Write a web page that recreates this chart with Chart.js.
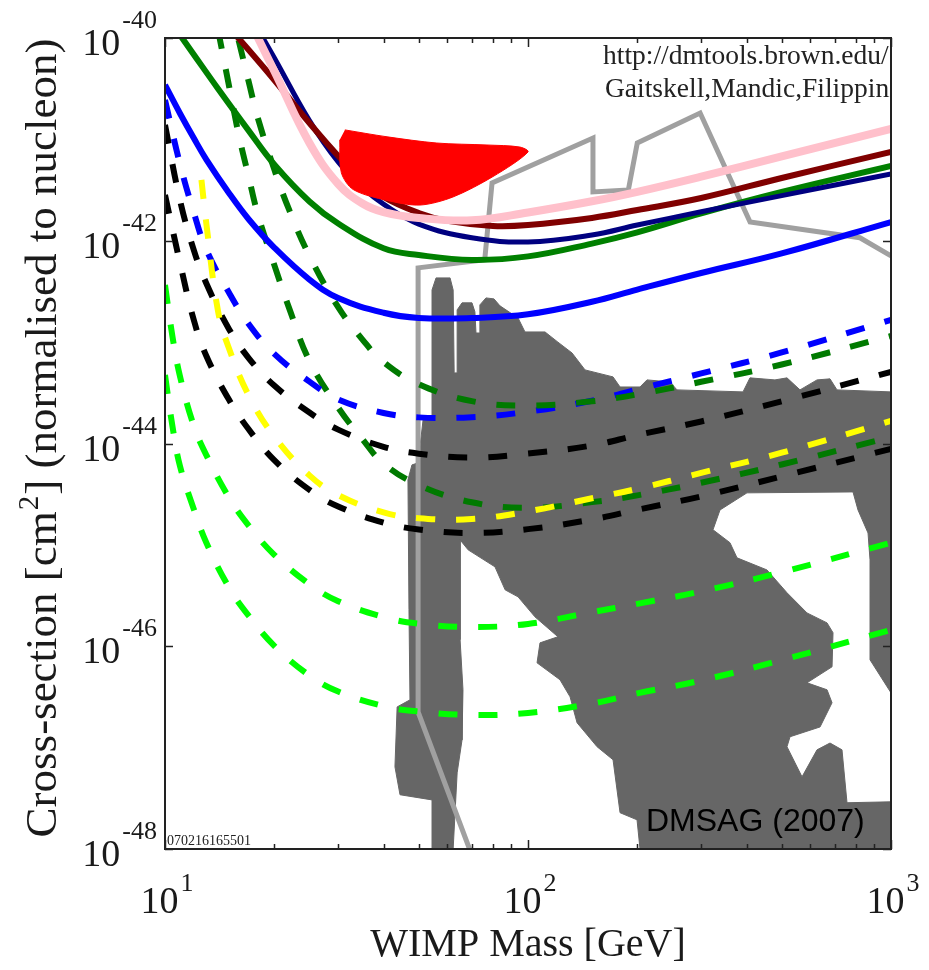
<!DOCTYPE html>
<html>
<head>
<meta charset="utf-8">
<script src="https://cdn.jsdelivr.net/npm/chart.js@4.4.1/dist/chart.umd.min.js"></script>
<style>
html,body{margin:0;padding:0;background:#ffffff;}
#wrap{width:929px;height:970px;position:relative;}
canvas{display:block;}
</style>
</head>
<body>
<div id="wrap"><canvas id="chart" width="929" height="970"></canvas></div>
<script>
// ---------------- DATA (WIMP mass in GeV, cross-section in cm^2) ----------------
const maroonMass  = [15, 16, 20, 25, 30, 35, 40, 50, 60, 80, 100, 150, 200, 300, 500, 1000];
const maroonSigma = [1.27e-40, 9.8e-41, 3.85e-41, 1.45e-41, 6.86e-42, 3.98e-42, 2.70e-42, 1.88e-42, 1.57e-42, 1.40e-42, 1.43e-42, 1.68e-42, 2.01e-42, 2.64e-42, 4.16e-42, 7.51e-42];

const pinkMass  = [17, 20, 25, 30, 35, 40, 50, 70, 100, 150, 200, 300, 500, 1000];
const pinkSigma = [1.54e-40, 4.73e-41, 9.21e-42, 3.63e-42, 2.33e-42, 1.92e-42, 1.68e-42, 1.59e-42, 1.90e-42, 2.45e-42, 3.04e-42, 4.29e-42, 6.78e-42, 1.27e-41];

const navyMass  = [17, 20, 25, 30, 35, 40, 50, 70, 100, 150, 200, 300, 500, 1000];
const navySigma = [1.76e-40, 6.39e-41, 1.53e-41, 5.98e-42, 3.36e-42, 2.30e-42, 1.46e-42, 1.07e-42, 9.73e-43, 1.14e-42, 1.43e-42, 1.93e-42, 2.79e-42, 4.56e-42];

const greenMass  = [10, 11, 12, 14, 17, 20, 25, 30, 40, 50, 70, 100, 150, 200, 300, 500, 1000];
const greenSigma = [1.72e-40, 1.07e-40, 6.88e-41, 3.16e-41, 1.22e-41, 5.65e-42, 2.44e-42, 1.48e-42, 8.43e-43, 7.24e-43, 6.47e-43, 7.01e-43, 9.38e-43, 1.21e-42, 1.86e-42, 3.03e-42, 5.47e-42];

const blueMass  = [10, 11, 12, 13, 15, 17, 20, 25, 30, 40, 50, 70, 100, 150, 200, 300, 500, 1000];
const blueSigma = [3.44e-41, 1.80e-41, 1.03e-41, 6.32e-42, 2.96e-42, 1.63e-42, 8.55e-43, 4.14e-43, 2.72e-43, 1.95e-43, 1.73e-43, 1.73e-43, 1.88e-43, 2.50e-43, 3.30e-43, 4.81e-43, 7.50e-43, 1.53e-42];

const greenDashUpperMass  = [15, 16, 17, 18, 20, 22, 25, 30, 35, 40, 50, 70, 100, 150, 200, 300, 500, 1000];
const greenDashUpperSigma = [2.29e-40, 9.05e-41, 3.72e-41, 1.65e-41, 5.06e-42, 2.00e-42, 7.08e-43, 2.21e-43, 1.06e-43, 6.35e-44, 3.85e-44, 2.62e-44, 2.37e-44, 2.61e-44, 3.05e-44, 4.06e-44, 6.01e-44, 1.15e-43];

const greenDashLowerMass  = [14, 15, 16, 17, 18, 20, 22, 25, 30, 35, 40, 50, 70, 100, 150, 200, 300, 500, 1000];
const greenDashLowerSigma = [1.20e-40, 3.41e-41, 1.07e-41, 4.29e-42, 1.85e-42, 5.78e-43, 2.14e-43, 6.53e-44, 2.26e-44, 1.10e-44, 6.35e-45, 3.89e-45, 2.63e-45, 2.32e-45, 2.64e-45, 3.08e-45, 4.10e-45, 6.21e-45, 1.16e-44];

const blueDashMass  = [10, 11, 12, 13, 15, 17, 20, 25, 30, 40, 50, 70, 100, 150, 200, 300, 500, 1000];
const blueDashSigma = [2.45e-41, 5.69e-42, 1.91e-42, 8.15e-43, 3.08e-43, 1.51e-43, 7.65e-44, 4.08e-44, 2.72e-44, 2.00e-44, 1.81e-44, 1.82e-44, 2.06e-44, 2.64e-44, 3.42e-44, 4.91e-44, 7.91e-44, 1.66e-43];

const blackDashUpperMass  = [10, 11, 12, 13, 15, 17, 20, 25, 30, 40, 50, 70, 100, 150, 200, 300, 500, 1000];
const blackDashUpperSigma = [1.39e-41, 2.50e-42, 8.13e-43, 3.79e-43, 1.35e-43, 6.97e-44, 3.73e-44, 2.02e-44, 1.37e-44, 9.28e-45, 7.94e-45, 7.26e-45, 7.98e-45, 9.55e-45, 1.21e-44, 1.65e-44, 2.61e-44, 5.08e-44];

const blackDashLowerMass  = [10, 11, 12, 13, 15, 17, 20, 25, 30, 40, 50, 70, 100, 150, 200, 300, 500, 1000];
const blackDashLowerSigma = [2.83e-42, 6.05e-43, 1.66e-43, 7.31e-44, 2.71e-44, 1.38e-44, 6.84e-45, 3.49e-45, 2.39e-45, 1.66e-45, 1.42e-45, 1.31e-45, 1.43e-45, 1.78e-45, 2.22e-45, 3.01e-45, 4.74e-45, 8.85e-45];

const yellowDashMass  = [12.6, 13, 14, 15, 17, 20, 25, 30, 40, 50, 70, 100, 150, 200, 300, 500, 1000];
const yellowDashSigma = [3.98e-42, 1.47e-42, 2.02e-43, 8.69e-44, 2.99e-44, 1.17e-44, 4.85e-45, 3.10e-45, 2.09e-45, 1.83e-45, 1.80e-45, 2.14e-45, 2.88e-45, 3.57e-45, 5.13e-45, 8.11e-45, 1.67e-44];

const limeDashUpperMass  = [10, 10.5, 11, 12, 13, 15, 17, 20, 25, 30, 40, 50, 70, 100, 150, 200, 300, 500, 1000];
const limeDashUpperSigma = [3.66e-43, 1.10e-43, 4.58e-44, 1.50e-44, 7.67e-45, 2.94e-45, 1.55e-45, 7.98e-46, 4.09e-46, 2.78e-46, 1.94e-46, 1.67e-46, 1.55e-46, 1.66e-46, 2.17e-46, 2.62e-46, 3.48e-46, 5.38e-46, 1.05e-45];

const limeDashLowerMass  = [10, 10.5, 11, 12, 13, 15, 17, 20, 25, 30, 40, 50, 70, 100, 150, 200, 300, 500, 1000];
const limeDashLowerSigma = [4.75e-44, 1.43e-44, 5.96e-45, 2.26e-45, 1.05e-45, 3.81e-46, 2.00e-46, 1.01e-46, 5.14e-47, 3.57e-47, 2.57e-47, 2.27e-47, 2.10e-47, 2.20e-47, 2.72e-47, 3.43e-47, 4.60e-47, 7.30e-47, 1.45e-46];

// light grey experimental limit (polyline)
const greyLimitMass  = [69, 49.8, 49.8, 76, 79.6, 151, 151, 189, 200, 298, 409, 821, 1000];
const greyLimitSigma = [1e-48, 2.25e-47, 5.4e-43, 6.5e-43, 3.72e-42, 1.03e-41, 3.03e-42, 3.17e-42, 9.2e-42, 1.82e-41, 1.53e-42, 1.07e-42, 7.1e-43];

// red signal region (closed outline)
const redRegionMass  = [31.3, 40.9, 56.1, 77.1, 95, 100, 80.1, 62.1, 50.4, 40.9, 33, 30.6, 30.3];
const redRegionSigma = [1.24e-41, 1.06e-41, 9.2e-42, 8.8e-42, 8.4e-42, 7.5e-42, 4.3e-42, 2.7e-42, 2.25e-42, 2.5e-42, 3.2e-42, 4.7e-42, 9.9e-42];

// dark grey theory region (closed outline)
const theoryRegionMass = [54.4, 54.4, 55.8, 61.0, 62.2, 62.6, 63.8, 63.8, 65.8, 70.1, 71.4, 71.9, 73.7, 73.7, 76.6, 80.6, 83.7, 93.9, 98.1, 111.4,
  120.9, 132.2, 143.6, 171.5, 179.3, 203.5, 212.7, 246.1, 257.3, 391.1, 408.8, 479.0, 517.0, 561.5, 625.5, 679.2, 709.9, 1000, 1000, 875.4,
  875.4, 864.4, 811.1, 785.8, 401.1, 338.0, 323.3, 360.1, 376.5, 455.3, 517.0, 587.0, 666.5, 692.2, 688.0, 587.0, 666.5, 688.0, 637.6, 527.0,
  517.0, 568.7, 625.5, 679.2, 732.8, 756.5, 1000, 1000, 203.5, 199.7, 179.3, 171.5, 155.0, 136.5, 130.6, 122.5, 105.9, 107.9, 120.9, 104.5,
  93.9, 86.5, 81.1, 68.4, 65.0, 65.0, 66.2, 65.8, 63.8, 62.2, 54.4, 54.4, 44.4, 43.0, 43.6, 47.3, 47.0, 46.7, 47.9, 49.8, 51.4];
const theoryRegionSigma = [1.83e-44, 3.27e-43, 4.30e-43, 4.30e-43, 3.27e-43, 4.97e-44, 4.97e-44, 2.08e-43, 2.44e-43, 2.44e-43, 1.99e-43, 1.23e-43, 1.23e-43, 2.33e-43, 2.73e-43, 2.67e-43, 2.28e-43, 1.73e-43, 1.26e-43, 1.26e-43,
  1.00e-43, 7.82e-44, 5.32e-44, 4.54e-44, 3.61e-44, 3.61e-44, 4.24e-44, 4.05e-44, 3.38e-44, 3.23e-44, 4.44e-44, 4.24e-44, 4.44e-44, 3.38e-44, 4.24e-44, 4.34e-44, 3.38e-44, 3.23e-44, 3.47e-47, 7.35e-47,
  7.11e-46, 1.31e-45, 2.21e-45, 3.33e-45, 3.26e-45, 2.21e-45, 1.41e-45, 1.05e-45, 7.45e-46, 5.66e-46, 3.37e-46, 2.13e-46, 1.70e-46, 1.36e-46, 6.27e-47, 4.36e-47, 3.72e-47, 2.77e-47, 1.60e-47, 1.28e-47,
  1.02e-47, 5.15e-48, 9.51e-48, 1.11e-47, 9.51e-48, 2.86e-48, 2.92e-48, 1e-48, 1e-48, 1.94e-48, 2.28e-48, 7.59e-48, 1.02e-47, 1.76e-47, 3.17e-47, 4.67e-47, 6.86e-47, 1.08e-46, 1.24e-46, 1.95e-46,
  3.07e-46, 3.60e-46, 6.07e-46, 8.93e-46, 1.12e-45, 1.16e-46, 3.72e-47, 1.19e-47, 5.64e-48, 1e-48, 1e-48, 3.05e-48, 3.43e-48, 6.47e-48, 2.52e-47, 2.96e-47, 2.29e-46, 4.38e-45, 6.15e-45, 6.44e-45, 1.71e-44];

// ticks / labels
const xMajorTicks = [10, 100, 1000];
const xTickExponents = [1, 2, 3];
const xMinorTicks = [20, 30, 40, 50, 60, 70, 80, 90, 200, 300, 400, 500, 600, 700, 800, 900];
const yTickExponents = [-40, -42, -44, -46, -48];
const xTitle = 'WIMP Mass [GeV]';
const yTitleParts = ['Cross-section [cm', '2', '] (normalised to nucleon)'];
const creditUrl = 'http://dmtools.brown.edu/';
const creditAuthors = 'Gaitskell,Mandic,Filippini';
const stampText = '070216165501';
const sourceText = 'DMSAG (2007)';

// ---------------- helpers ----------------
const toPoints = (m, s) => m.map((v, i) => ({x: v, y: s[i]}));
function curve(label, m, s, color, width, dash) {
  return {label, data: toPoints(m, s), showLine: true, borderColor: color, borderWidth: width,
    borderDash: dash || [], borderCapStyle: 'butt', borderJoinStyle: 'round', pointRadius: 0, pointHoverRadius: 0,
    tension: 0.4, fill: false, clip: 0};
}
function region(label, m, s, color, tension) {
  return {label, data: toPoints(m, s), showLine: true, borderColor: color, borderWidth: 1,
    backgroundColor: color, fill: 'shape', pointRadius: 0, pointHoverRadius: 0, tension: tension, clip: 0};
}
const DASH = [19, 21];

const datasets = [
  region('DAMA region', redRegionMass, redRegionSigma, '#ff0000', 0.3),
  curve('pink', pinkMass, pinkSigma, '#ffc0cb', 8),
  curve('maroon', maroonMass, maroonSigma, '#800000', 6),
  curve('navy', navyMass, navySigma, '#000080', 5),
  curve('green', greenMass, greenSigma, '#008000', 6),
  curve('blue', blueMass, blueSigma, '#0000ff', 6),
  curve('yellow dashed', yellowDashMass, yellowDashSigma, '#ffff00', 6, DASH),
  curve('green dashed upper', greenDashUpperMass, greenDashUpperSigma, '#007a00', 6, DASH),
  curve('blue dashed', blueDashMass, blueDashSigma, '#0000ff', 6, DASH),
  curve('black dashed upper', blackDashUpperMass, blackDashUpperSigma, '#000000', 6, DASH),
  curve('green dashed lower', greenDashLowerMass, greenDashLowerSigma, '#007a00', 6, DASH),
  curve('black dashed lower', blackDashLowerMass, blackDashLowerSigma, '#000000', 6, DASH),
  curve('lime dashed upper', limeDashUpperMass, limeDashUpperSigma, '#00ff00', 6, DASH),
  curve('lime dashed lower', limeDashLowerMass, limeDashLowerSigma, '#00ff00', 6, DASH),
  Object.assign(curve('grey limit', greyLimitMass, greyLimitSigma, '#a0a0a0', 5), {tension: 0, borderJoinStyle: 'miter'}),
  region('theory region', theoryRegionMass, theoryRegionSigma, '#666666', 0)
];

const SERIF = '"Liberation Serif", "Times New Roman", serif';

function drawSup(ctx, x, y, base, sup, baseSize, supSize, rise, align) {
  ctx.font = baseSize + 'px ' + SERIF;
  const wb = ctx.measureText(base).width;
  ctx.font = supSize + 'px ' + SERIF;
  const ws = ctx.measureText(sup).width;
  const gap = 2;
  const total = wb + gap + ws;
  let x0 = x;
  if (align === 'center') x0 = x - total / 2;
  else if (align === 'right') x0 = x - total;
  ctx.textAlign = 'left';
  ctx.textBaseline = 'alphabetic';
  ctx.font = baseSize + 'px ' + SERIF;
  ctx.fillText(base, x0, y);
  ctx.font = supSize + 'px ' + SERIF;
  ctx.fillText(sup, x0 + wb + gap, y - rise);
}

const decor = {
  id: 'decor',
  afterDatasetsDraw(chart) {
    const {ctx, chartArea: a, scales} = chart;
    const xs = scales.x, ys = scales.y;
    ctx.save();
    ctx.beginPath();
    ctx.rect(a.left, a.top, a.right - a.left, a.bottom - a.top);
    ctx.clip();
    ctx.fillStyle = '#222222';
    ctx.textAlign = 'left';
    ctx.textBaseline = 'alphabetic';
    ctx.font = '27.5px ' + SERIF;
    ctx.fillText(creditUrl, a.left + 438, a.top + 26);
    ctx.fillText(creditAuthors, a.left + 440, a.top + 59);
    ctx.font = '14px ' + SERIF;
    ctx.fillText(stampText, a.left + 2, a.bottom - 4);
    ctx.fillStyle = '#000000';
    ctx.font = '32px "Liberation Sans", Arial, sans-serif';
    ctx.fillText(sourceText, a.left + 481, a.bottom - 18);
    ctx.restore();

    // frame
    ctx.save();
    ctx.strokeStyle = '#222222';
    ctx.lineWidth = 2;
    ctx.strokeRect(a.left, a.top, a.right - a.left, a.bottom - a.top);
    ctx.lineWidth = 1.5;
    ctx.beginPath();
    const allX = xMajorTicks.concat(xMinorTicks);
    allX.forEach(v => {
      const px = Math.round(xs.getPixelForValue(v)) + 0.5;
      const len = xMajorTicks.includes(v) ? 9 : 5;
      ctx.moveTo(px, a.bottom); ctx.lineTo(px, a.bottom - len);
      ctx.moveTo(px, a.top); ctx.lineTo(px, a.top + len);
    });
    yTickExponents.forEach(e => {
      const py = Math.round(ys.getPixelForValue(Math.pow(10, e))) + 0.5;
      ctx.moveTo(a.left, py); ctx.lineTo(a.left + 8, py);
      ctx.moveTo(a.right, py); ctx.lineTo(a.right - 8, py);
    });
    ctx.stroke();
    ctx.restore();
  },
  afterDraw(chart) {
    const {ctx, chartArea: a, scales} = chart;
    const xs = scales.x, ys = scales.y;
    ctx.save();
    ctx.fillStyle = '#1a1a1a';
    // y tick labels
    yTickExponents.forEach(e => {
      const py = ys.getPixelForValue(Math.pow(10, e));
      drawSup(ctx, a.left - 8, py + 17, '10', String(e), 38, 26, 27, 'right');
    });
    // x tick labels
    xMajorTicks.forEach((v, i) => {
      const px = xs.getPixelForValue(v);
      drawSup(ctx, px + 2, a.bottom + 64, '10', String(xTickExponents[i]), 38, 26, 22, 'center');
    });
    // x title
    ctx.font = '40px ' + SERIF;
    ctx.textAlign = 'center';
    ctx.textBaseline = 'alphabetic';
    ctx.fillText(xTitle, (a.left + a.right) / 2, a.bottom + 107);
    // y title (rotated)
    ctx.translate(56, 438);
    ctx.rotate(-Math.PI / 2);
    const fBase = '45px ' + SERIF, fSup = '29px ' + SERIF;
    ctx.font = fBase; const w0 = ctx.measureText(yTitleParts[0]).width;
    ctx.font = fSup;  const w1 = ctx.measureText(yTitleParts[1]).width;
    ctx.font = fBase; const w2 = ctx.measureText(yTitleParts[2]).width;
    const tot = w0 + w1 + 2 + w2;
    let x0 = -tot / 2;
    ctx.textAlign = 'left';
    ctx.font = fBase; ctx.fillText(yTitleParts[0], x0, 0);
    ctx.font = fSup;  ctx.fillText(yTitleParts[1], x0 + w0 + 1, -18);
    ctx.font = fBase; ctx.fillText(yTitleParts[2], x0 + w0 + w1 + 2, 0);
    ctx.restore();
  }
};

Chart.defaults.font.family = SERIF;
new Chart(document.getElementById('chart'), {
  type: 'scatter',
  data: {datasets},
  options: {
    responsive: false,
    animation: false,
    devicePixelRatio: 1,
    events: [],
    layout: {padding: {left: 165, right: 38, top: 38, bottom: 121}},
    elements: {line: {capBezierPoints: false}, point: {radius: 0}},
    plugins: {legend: {display: false}, tooltip: {enabled: false}},
    scales: {
      x: {type: 'logarithmic', min: 10, max: 1000, display: false},
      y: {type: 'logarithmic', min: 1e-48, max: 1e-40, display: false}
    }
  },
  plugins: [decor]
});
</script>
</body>
</html>
